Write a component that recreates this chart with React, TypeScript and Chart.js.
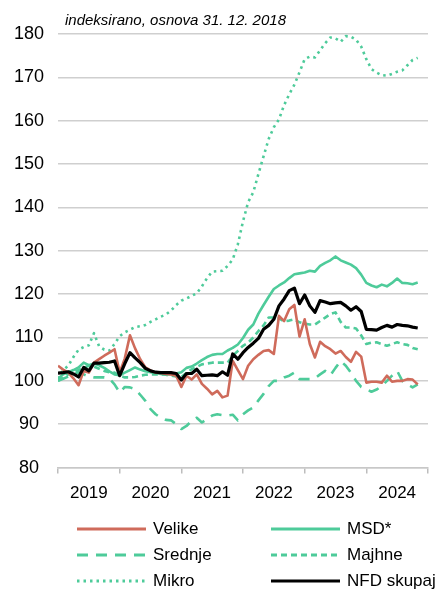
import React, { useEffect, useRef } from 'react';
import { Chart, registerables } from 'chart.js';

Chart.register(...registerables);

// Year labels on the x axis (centred between yearly tick marks)
const yearLabels = ['2019', '2020', '2021', '2022', '2023', '2024'];
const yTicks = [80, 90, 100, 110, 120, 130, 140, 150, 160, 170, 180];

// Monthly index values, Dec 2018 .. Oct 2024
const velike = [
  103.5, 102.6, 101.9, 100.6, 99.0, 102.3, 101.9, 104.2, 105.0, 105.8, 106.5, 107.3,
  101.9, 105.2, 110.5, 107.5, 105.0, 103.1, 102.4, 101.9, 101.8, 101.6, 101.5, 101.2,
  98.6, 101.2, 100.3, 101.5, 99.3, 98.2, 96.9, 97.7, 96.2, 96.6, 104.6, 102.5,
  100.4, 103.5, 105.0, 106.0, 106.9, 107.1, 106.2, 115.0, 113.8, 116.5, 117.5, 110.2,
  114.2, 108.5, 105.4, 109.0, 108.0, 107.3, 106.3, 106.9, 105.5, 104.4, 106.7, 105.6,
  99.6, 99.8, 99.8, 99.6, 101.2, 99.8, 100.0, 100.0, 100.4, 100.3, 99.2,
];
const msd = [
  100.5, 101.5, 102.0, 102.5, 103.1, 104.2, 103.6, 104.0, 103.6, 103.0, 102.2, 101.5,
  101.3, 101.9, 102.5, 103.1, 102.6, 102.2, 102.0, 101.8, 101.6, 101.5, 101.5, 101.7,
  102.0, 103.0, 103.3, 104.0, 104.8, 105.5, 106.0, 106.2, 106.2, 107.0, 107.6, 108.4,
  109.9, 111.8, 113.0, 115.5, 117.5, 119.4, 121.2, 122.0, 122.7, 123.7, 124.6, 124.8,
  125.0, 125.4, 125.2, 126.5, 127.2, 127.8, 128.7, 127.8, 127.3, 126.8, 126.0, 124.5,
  122.6, 122.0, 121.6, 122.2, 121.8, 122.6, 123.6, 122.6, 122.5, 122.3, 122.7,
];
const srednje = [
  100.0, 100.5, 101.0, 101.5, 102.0, 101.5, 101.0, 100.8, 100.8, 100.8, 100.5, 99.2,
  97.3, 98.6, 98.5, 98.1, 96.8, 95.4, 93.5, 92.3, 91.5, 91.0, 90.9, 90.0,
  88.9, 89.6, 90.8, 91.5, 90.4, 91.2, 92.0, 92.3, 92.1, 92.0, 92.2, 90.9,
  92.3, 93.2, 93.9, 95.5, 97.0, 98.8, 100.0, 100.0, 100.8, 101.2, 101.9, 100.4,
  100.4, 100.4, 100.6, 101.5, 102.3, 101.3, 103.0, 104.6, 103.5, 101.9, 100.0, 98.6,
  98.1, 97.5, 98.0, 98.8, 100.0, 101.2, 102.3, 100.0, 99.2, 98.5, 99.2,
];
const majhne = [
  100.0, 100.8, 101.5, 102.0, 102.5, 103.0, 103.5, 103.3, 102.8, 102.3, 102.0, 101.9,
  101.2, 100.8, 100.8, 100.9, 101.2, 101.4, 101.5, 101.5, 101.5, 101.4, 101.2, 101.0,
  100.9, 101.8, 102.7, 103.2, 103.8, 104.0, 104.2, 104.2, 104.2, 104.2, 105.8, 106.9,
  108.1, 108.8, 110.0, 111.5, 112.8, 114.6, 114.6, 114.4, 113.7, 113.9, 114.2, 113.5,
  113.2, 113.0, 113.0, 113.8, 114.6, 115.4, 115.8, 113.6, 112.3, 112.3, 112.1, 110.5,
  108.5, 108.8, 108.9, 108.5, 108.1, 108.5, 108.9, 108.5, 108.3, 107.6, 107.3,
];
const mikro = [
  100.5, 102.5, 103.5, 105.5, 107.2, 107.8, 108.2, 111.0, 108.0, 107.2, 107.0, 108.5,
  110.3, 111.2, 111.8, 112.4, 112.6, 112.9, 113.6, 114.2, 114.8, 115.3, 116.2, 117.5,
  118.5, 119.0, 119.6, 120.2, 121.8, 123.7, 125.2, 125.3, 125.4, 126.5, 128.0, 131.5,
  136.8, 141.2, 143.5, 147.7, 151.8, 155.8, 158.5, 160.3, 163.6, 166.1, 168.3, 171.2,
  174.2, 174.8, 174.6, 176.2, 177.9, 179.2, 179.0, 178.2, 179.5, 179.4, 178.7, 177.1,
  174.2, 171.9, 171.1, 170.5, 170.4, 170.8, 171.3, 171.6, 172.8, 174.0, 174.5,
];
const nfd = [
  101.8, 101.9, 102.1, 101.6, 100.9, 103.1, 102.3, 104.1, 104.1, 104.2, 104.3, 104.6,
  101.2, 104.0, 106.5, 105.3, 104.2, 102.9, 102.3, 102.0, 101.9, 101.9, 101.9, 101.7,
  100.2, 101.7, 101.7, 102.7, 101.2, 101.3, 101.4, 101.2, 102.1, 101.3, 106.2, 105.0,
  106.5, 107.7, 108.7, 109.8, 111.9, 112.8, 114.2, 117.3, 118.9, 120.8, 121.4, 117.8,
  119.8, 117.3, 115.8, 118.5, 118.2, 117.8, 118.0, 118.1, 117.3, 116.3, 117.1, 116.0,
  111.9, 111.8, 111.7, 112.3, 112.8, 112.4, 113.0, 112.8, 112.7, 112.4, 112.2,
];

const seriesNames = ['Velike', 'MSD*', 'Srednje', 'Majhne', 'Mikro', 'NFD skupaj'];

const RED = '#CF6B5B';
const GREEN = '#4ECB9A';
const FONT = "'Liberation Sans', Arial, sans-serif";

type Style = { color: string; width: number; dash: number[]; cap: CanvasLineCap };
const styles: Style[] = [
  { color: RED, width: 2.6, dash: [], cap: 'butt' },
  { color: GREEN, width: 2.6, dash: [], cap: 'butt' },
  { color: GREEN, width: 2.6, dash: [11, 8], cap: 'butt' },
  { color: GREEN, width: 2.6, dash: [6, 4], cap: 'butt' },
  { color: GREEN, width: 2.6, dash: [2.5, 4], cap: 'butt' },
  { color: '#000000', width: 3.2, dash: [], cap: 'butt' },
];
const drawOrder = [2, 4, 4, 3, 5, 0];

const toPoints = (arr: number[]) => arr.map((v, i) => ({ x: i, y: v }));

export default function App() {
  const ref = useRef<HTMLCanvasElement | null>(null);

  useEffect(() => {
    if (!ref.current) return;
    const all = [velike, msd, srednje, majhne, mikro, nfd];
    const chart = new Chart(ref.current, {
      type: 'line',
      data: {
        datasets: all.map((arr, k) => ({
          label: seriesNames[k],
          data: toPoints(arr),
          borderColor: styles[k].color,
          backgroundColor: styles[k].color,
          borderWidth: styles[k].width,
          borderDash: styles[k].dash,
          borderCapStyle: styles[k].cap,
          borderJoinStyle: 'round' as CanvasLineJoin,
          pointRadius: 0,
          tension: 0,
          fill: false,
          order: drawOrder[k],
        })),
      },
      options: {
        animation: false,
        responsive: false,
        maintainAspectRatio: false,
        layout: { padding: { top: 34, right: 3, left: 0, bottom: 76 } },
        plugins: {
          legend: { display: false },
          title: { display: false },
          tooltip: { enabled: false },
        },
        scales: {
          x: {
            type: 'linear',
            min: 0,
            max: 72,
            afterBuildTicks: (scale: any) => {
              const t: any[] = [];
              for (let v = 0; v <= 72; v += 6) t.push({ value: v });
              scale.ticks = t;
            },
            ticks: {
              autoSkip: false,
              maxRotation: 0,
              padding: 10,
              color: '#000',
              font: { family: FONT, size: 17 },
              callback: (v: any) => {
                const n = Number(v);
                return n % 12 === 6 ? yearLabels[(n - 6) / 12] : '';
              },
            },
            grid: {
              drawOnChartArea: false,
              drawTicks: true,
              tickLength: 6,
              lineWidth: 1.5,
              color: (ctx: any) =>
                ctx.tick && ctx.tick.value % 12 === 0 ? '#bdbdbd' : 'rgba(0,0,0,0)',
            },
            border: { display: true, color: '#c8c8c8', width: 1.5 },
          },
          y: {
            min: 80,
            max: 180,
            afterBuildTicks: (scale: any) => {
              scale.ticks = yTicks.map((v) => ({ value: v }));
            },
            afterFit: (scale: any) => {
              scale.width = 58;
            },
            ticks: {
              crossAlign: 'center',
              padding: 14,
              color: '#000',
              font: { family: FONT, size: 18 },
            },
            grid: { drawTicks: false, lineWidth: 1.5, color: '#cfcfcf' },
            border: { display: false },
          },
        },
      },
    });
    return () => chart.destroy();
  }, []);

  const legendRows = [
    [0, 1],
    [2, 3],
    [4, 5],
  ];

  return (
    <div style={{ position: 'absolute', left: 0, top: 0, width: 438, height: 590, background: '#fff', overflow: 'hidden' }}>
      <canvas ref={ref} width={438} height={590} style={{ position: 'absolute', left: 0, top: 0, width: 438, height: 590 }} />
      <div
        style={{
          position: 'absolute',
          left: 65,
          top: 10,
          fontFamily: FONT,
          fontStyle: 'italic',
          fontSize: 15,
          lineHeight: '20px',
          color: '#000',
          whiteSpace: 'nowrap',
        }}
      >
        indeksirano, osnova 31. 12. 2018
      </div>
      {legendRows.map((row, r) =>
        row.map((k, c) => {
          const st = styles[k];
          const left = c === 0 ? 77 : 271;
          const cy = 529 + r * 26;
          return (
            <div key={k} style={{ position: 'absolute', left, top: cy - 12, height: 24, display: 'flex', alignItems: 'center', whiteSpace: 'nowrap' }}>
              <svg width={70} height={10} style={{ display: 'block' }}>
                <line
                  x1={0}
                  y1={5}
                  x2={69}
                  y2={5}
                  stroke={st.color}
                  strokeWidth={k === 5 ? 3.2 : 3}
                  strokeDasharray={st.dash.length ? st.dash.join(' ') : undefined}
                />
              </svg>
              <span style={{ marginLeft: 6, fontFamily: FONT, fontSize: 17, color: '#000' }}>{seriesNames[k]}</span>
            </div>
          );
        })
      )}
    </div>
  );
}
